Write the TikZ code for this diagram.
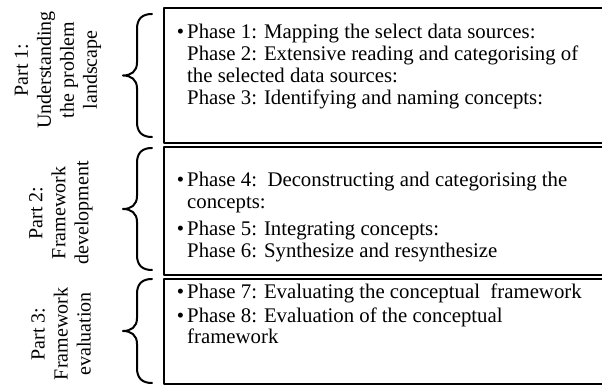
\documentclass[tikz,border=0pt]{standalone}
\usepackage{fontspec}
\setmainfont{Liberation Serif}
\usetikzlibrary{positioning}
\tikzset{
  phase box/.style={line width=2.2pt},
  phase text/.style={font=\fontsize{20.8}{21.8}\selectfont,align=left,inner sep=0pt,anchor=north west},
  part label/.style={font=\fontsize{20}{23}\selectfont,align=center,rotate=90,inner sep=0pt},
  part brace/.style={line width=2pt}
}
\newcommand{\PhaseBullet}{\llap{\textbullet\hspace{3pt}}}
\newcommand{\PartBrace}[2]{%
  \pgfmathsetmacro{\bmid}{(#1+#2)/2}
  \draw[part brace] (152,#1) .. controls (142,#1) and (137,#1+5) .. (137,#1+15)
    -- (137,\bmid-13) .. controls (137,\bmid-4) and (131,\bmid) .. (123,\bmid)
    .. controls (131,\bmid) and (137,\bmid+4) .. (137,\bmid+13)
    -- (137,#2-15) .. controls (137,#2-5) and (142,#2) .. (152,#2);}

\begin{document}
\begin{tikzpicture}[x=1pt,y=-1pt,line cap=round,line join=round]
  \useasboundingbox (0,0) rectangle (602,387);
  \clip (0,0) rectangle (602,387);

  \draw[phase box] (164,8)   rectangle (612,143);
  \draw[phase box] (164,147) rectangle (612,275);
  \draw[phase box] (164,279) rectangle (612,384);

  \PartBrace{14}{137}
  \PartBrace{148}{270}
  \PartBrace{279}{383}

  \node[part label] (p1) at (58,70)  {Part 1:\\Understanding\\the problem\\landscape};
  \node[part label] (p2) at (61,213) {Part 2:\\Framework\\development};
  \node[part label] (p3) at (61,334) {Part 3:\\Framework\\evaluation};

  \node[phase text] (t1) at (187,24) {\PhaseBullet Phase 1: Mapping the select data sources:\\
    Phase 2: Extensive reading and categorising of\\
    the selected data sources:\\
    Phase 3: Identifying and naming concepts:};
  \node[phase text] (t2) at (187,172) {\PhaseBullet Phase 4:\ \ Deconstructing and categorising the\\
    concepts:\\[5pt]
    \PhaseBullet Phase 5: Integrating concepts:\\
    Phase 6: Synthesize and resynthesize};
  \node[phase text] (t3) at (187,284) {\PhaseBullet Phase 7: Evaluating the conceptual\ \ framework\\[1.5pt]
    \PhaseBullet Phase 8: Evaluation of the conceptual\\
    framework};
\end{tikzpicture}
\end{document}
